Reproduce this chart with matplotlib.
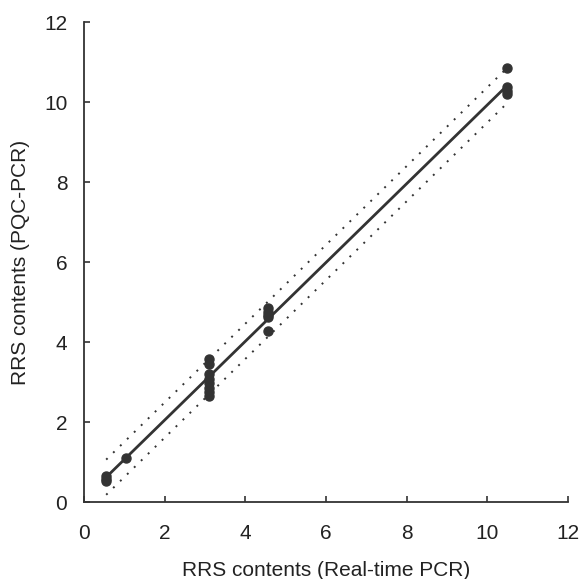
import numpy as np
import matplotlib.pyplot as plt

plt.rcParams['font.family'] = ['Liberation Sans', 'DejaVu Sans']

# Measured points (Real-time PCR vs PQC-PCR)
x_pts = [0.55, 0.55, 0.55, 1.05,
         3.1, 3.1, 3.1, 3.1, 3.1, 3.1, 3.1, 3.1,
         4.55, 4.55, 4.55, 4.55, 4.55,
         10.5, 10.5, 10.5, 10.5]
y_pts = [0.52, 0.58, 0.64, 1.1,
         3.58, 3.45, 3.2, 3.08, 2.97, 2.86, 2.76, 2.66,
         4.85, 4.75, 4.68, 4.62, 4.28,
         10.85, 10.38, 10.28, 10.2]

# regression line and band
line_x = [0.55, 10.5]
line_y = [0.62, 10.42]
band = 0.44

ink = '#333333'

fig = plt.figure(figsize=(5.84, 5.79), dpi=100)
ax = fig.add_axes([84 / 584, 77 / 579, 484 / 584, 480 / 579])

ax.plot(x_pts, y_pts, 'o', color=ink, markersize=6.5, zorder=3)
ax.plot(line_x, line_y, '-', color=ink, linewidth=2)
ax.plot(line_x, [v + band for v in line_y], color=ink, linewidth=1.4,
        linestyle=(0, (1, 4)))
ax.plot(line_x, [v - band for v in line_y], color=ink, linewidth=1.4,
        linestyle=(0, (1, 4)))

ax.set_xlim(0, 12)
ax.set_ylim(0, 12)
ax.set_xticks(range(0, 13, 2))
ax.set_yticks(range(0, 13, 2))

for s in ['top', 'right']:
    ax.spines[s].set_visible(False)
for s in ['left', 'bottom']:
    ax.spines[s].set_linewidth(1.3)
    ax.spines[s].set_color(ink)

ax.tick_params(direction='in', length=4, width=1.2, color=ink,
               labelsize=15, labelcolor='#222222')
ax.tick_params(axis='x', pad=16)
ax.tick_params(axis='y', pad=12)

ax.set_xlabel('RRS contents (Real-time PCR)', fontsize=15, color='#222222', labelpad=13)
ax.set_ylabel('RRS contents (PQC-PCR)', fontsize=15, color='#222222', labelpad=10)

fig.savefig('out.png', dpi=100)
